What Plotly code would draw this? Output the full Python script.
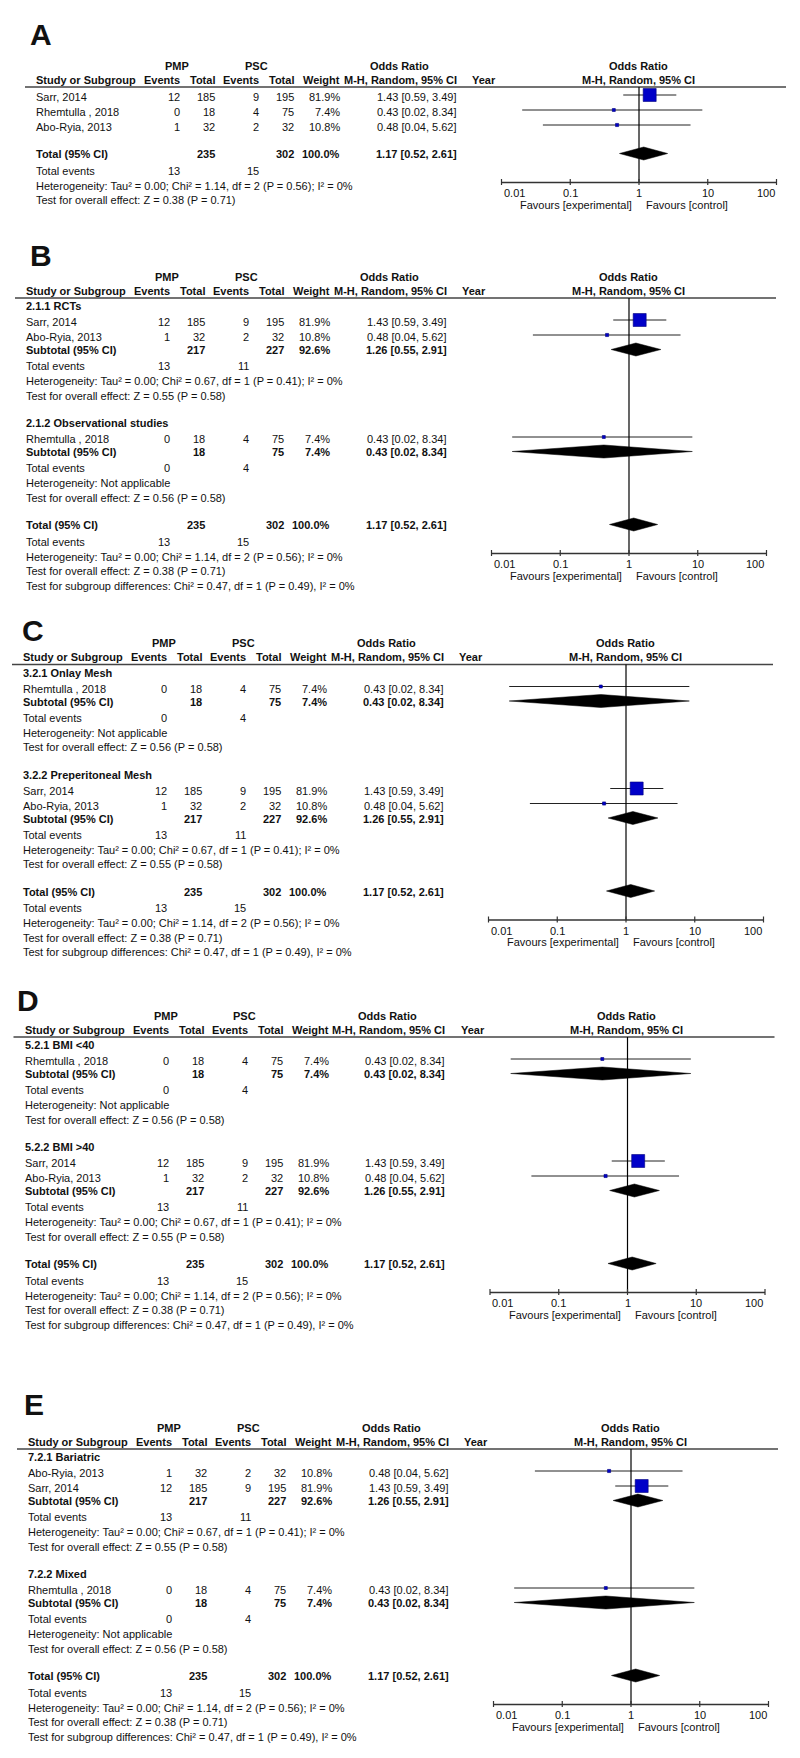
import math
import plotly.graph_objects as go

# ---------------- data ----------------
study_names = ["Sarr, 2014", "Rhemtulla , 2018", "Abo-Ryia, 2013"]
pmp_events = [12, 0, 1]
pmp_total = [185, 18, 32]
psc_events = [9, 4, 2]
psc_total = [195, 75, 32]
weights = [81.9, 7.4, 10.8]
or_est = [1.43, 0.43, 0.48]
or_lo = [0.59, 0.02, 0.04]
or_hi = [3.49, 8.34, 5.62]

# subgroup summaries: 0 = Sarr + Abo-Ryia, 1 = Rhemtulla
sub_pmp_events = [13, 0]
sub_psc_events = [11, 4]
sub_pmp_total = [217, 18]
sub_psc_total = [227, 75]
sub_weight = [92.6, 7.4]
sub_or = [1.26, 0.43]
sub_lo = [0.55, 0.02]
sub_hi = [2.91, 8.34]
sub_het = ["Heterogeneity: Tau² = 0.00; Chi² = 0.67, df = 1 (P = 0.41); I² = 0%",
           "Heterogeneity: Not applicable"]
sub_test = ["Test for overall effect: Z = 0.55 (P = 0.58)",
            "Test for overall effect: Z = 0.56 (P = 0.58)"]

tot_pmp_events = 13
tot_psc_events = 15
tot_pmp_total = 235
tot_psc_total = 302
tot_weight = 100.0
tot_or = 1.17
tot_lo = 0.52
tot_hi = 2.61
tot_het = "Heterogeneity: Tau² = 0.00; Chi² = 1.14, df = 2 (P = 0.56); I² = 0%"
tot_test = "Test for overall effect: Z = 0.38 (P = 0.71)"
tot_subdiff = "Test for subgroup differences: Chi² = 0.47, df = 1 (P = 0.49), I² = 0%"

panel_letters = ["A", "B", "C", "D", "E"]
# (subgroup label, study indices, subgroup summary index)
panel_groups = [
    [(None, [0, 1, 2], None)],
    [("2.1.1 RCTs", [0, 2], 0), ("2.1.2 Observational studies", [1], 1)],
    [("3.2.1 Onlay Mesh", [1], 1), ("3.2.2 Preperitoneal Mesh", [0, 2], 0)],
    [("5.2.1 BMI <40", [1], 1), ("5.2.2 BMI >40", [0, 2], 0)],
    [("7.2.1 Bariatric", [2, 0], 0), ("7.2.2 Mixed", [1], 1)],
]
tick_vals = [0.01, 0.1, 1, 10, 100]
tick_text = ["0.01", "0.1", "1", "10", "100"]

# ---------------- layout constants ----------------
W, H = 800, 1758
panel_line_y = [87, 298, 664.5, 1037, 1449]
panel_dx = [10, 0, -3, -1.5, 2]
letter_pos = [(28, 34), (28, 255), (20, 630), (15, 1000), (22, 1404)]
DEC = 68.75
FONT = "Arial, 'Liberation Sans', sans-serif"
TXT = "#111111"

fig = go.Figure()
annotations = []
shapes = []


def ann(text, x, y, xanchor="left", bold=False, size=11, xref="paper"):
    if bold:
        text = "<b>" + text + "</b>"
    annotations.append(dict(
        text=text, x=(x / W) if xref == "paper" else x, y=y, xref=xref, yref="y",
        xanchor=xanchor, yanchor="middle", showarrow=False,
        font=dict(family=FONT, size=size, color=TXT),
    ))


def fmt_or(o, lo, hi):
    return f"{o:.2f} [{lo:.2f}, {hi:.2f}]"


for p, letter in enumerate(panel_letters):
    dx = panel_dx[p]
    L = panel_line_y[p]
    vline = 629 + dx
    xa = "x" if p == 0 else f"x{p + 1}"
    xa_key = "xaxis" if p == 0 else f"xaxis{p + 1}"

    def cx(v):
        return v + dx

    # letter
    lx, ly = letter_pos[p]
    ann(letter, lx, ly, "left", bold=True, size=30)

    # headers
    y1, y2 = L - 21.5, L - 7.5
    ann("PMP", cx(167), y1, "center", True)
    ann("PSC", cx(246), y1, "center", True)
    ann("Odds Ratio", cx(389), y1, "center", True)
    ann("Odds Ratio", vline - 1, y1, "center", True)
    ann("Study or Subgroup", cx(24), y2, "left", True)
    ann("Events", cx(172), y2, "right", True)
    ann("Total", cx(207), y2, "right", True)
    ann("Events", cx(251), y2, "right", True)
    ann("Total", cx(286), y2, "right", True)
    ann("Weight", cx(332), y2, "right", True)
    ann("M-H, Random, 95% CI", cx(449), y2, "right", True)
    ann("Year", cx(460), y2, "left", True)
    ann("M-H, Random, 95% CI", vline - 1, y2, "center", True)
    shapes.append(dict(type="line", xref="paper", yref="y", x0=cx(15) / W, x1=cx(776) / W,
                       y0=L, y1=L, line=dict(color="#444444", width=1.5)))

    ci_x, ci_y, sq_x, sq_y, sq_s = [], [], [], [], []
    dia_x, dia_y = [], []

    def add_diamond(o, lo, hi, ry):
        ry = ry - 0.5
        dia_x.extend([lo, o, hi, o, lo, None])
        dia_y.extend([ry, ry - 6.5, ry, ry + 6.5, ry, None])

    def study_row(i, y, bold=False):
        ann(study_names[i], cx(24), y)
        ann(str(pmp_events[i]), cx(172), y, "right")
        ann(str(pmp_total[i]), cx(207), y, "right")
        ann(str(psc_events[i]), cx(251), y, "right")
        ann(str(psc_total[i]), cx(286), y, "right")
        ann(f"{weights[i]:.1f}%", cx(332), y, "right")
        ann(fmt_or(or_est[i], or_lo[i], or_hi[i]), cx(449), y, "right")
        ci_x.extend([or_lo[i], or_hi[i], None])
        ci_y.extend([y - 2, y - 2, None])
        sq_x.append(or_est[i])
        sq_y.append(y - 2)
        sq_s.append(max(3.0, 13 * (weights[i] / max(weights)) ** 0.7))

    y = L
    groups = panel_groups[p]
    has_sub = groups[0][0] is not None
    if not has_sub:
        for k, i in enumerate(groups[0][1]):
            y += 10 if k == 0 else 15
            study_row(i, y)
        y += 27
    else:
        for gi, (label, idxs, si) in enumerate(groups):
            y += 8 if gi == 0 else 27.5
            ann(label, cx(24), y, "left", True)
            for k, i in enumerate(idxs):
                y += 16 if k == 0 else 15
                study_row(i, y)
            y += 13
            ann("Subtotal (95% CI)", cx(24), y, "left", True)
            ann(str(sub_pmp_total[si]), cx(207), y, "right", True)
            ann(str(sub_psc_total[si]), cx(286), y, "right", True)
            ann(f"{sub_weight[si]:.1f}%", cx(332), y, "right", True)
            ann(fmt_or(sub_or[si], sub_lo[si], sub_hi[si]), cx(449), y, "right", True)
            add_diamond(sub_or[si], sub_lo[si], sub_hi[si], y)
            y += 16
            ann("Total events", cx(24), y)
            ann(str(sub_pmp_events[si]), cx(172), y, "right")
            ann(str(sub_psc_events[si]), cx(251), y, "right")
            y += 15
            ann(sub_het[si], cx(24), y)
            y += 14.5
            ann(sub_test[si], cx(24), y)
        y += 27.5

    y_tot = y
    ann("Total (95% CI)", cx(24), y, "left", True)
    ann(str(tot_pmp_total), cx(207), y, "right", True)
    ann(str(tot_psc_total), cx(286), y, "right", True)
    ann(f"{tot_weight:.1f}%", cx(332), y, "right", True)
    ann(fmt_or(tot_or, tot_lo, tot_hi), cx(449), y, "right", True)
    add_diamond(tot_or, tot_lo, tot_hi, y)
    y += 16.5
    ann("Total events", cx(24), y)
    ann(str(tot_pmp_events), cx(172), y, "right")
    ann(str(tot_psc_events), cx(251), y, "right")
    y += 15
    ann(tot_het, cx(24), y)
    y += 14.5
    ann(tot_test, cx(24), y)
    if has_sub:
        y += 14.5
        ann(tot_subdiff, cx(24), y)

    axis_y = y_tot + 28.5

    # forest axis (log)
    fig.update_layout(**{xa_key: dict(
        type="log", range=[-2.1, 2.1],
        domain=[(vline - 2.1 * DEC) / W, (vline + 2.1 * DEC) / W],
        anchor="y", visible=False, showgrid=False, zeroline=False,
    )})

    # traces
    fig.add_trace(go.Scatter(x=ci_x, y=ci_y, mode="lines", xaxis=xa, yaxis="y",
                             line=dict(color="#222222", width=1), hoverinfo="skip",
                             showlegend=False, cliponaxis=False))
    fig.add_trace(go.Scatter(x=sq_x, y=sq_y, mode="markers", xaxis=xa, yaxis="y",
                             marker=dict(symbol="square", size=sq_s, color="#0000C8", opacity=1,
                                         line=dict(color="#000080", width=0.6)),
                             hoverinfo="skip", showlegend=False, cliponaxis=False))
    fig.add_trace(go.Scatter(x=dia_x, y=dia_y, mode="lines", fill="toself", xaxis=xa, yaxis="y",
                             fillcolor="#000000", line=dict(color="#000000", width=0.5),
                             hoverinfo="skip", showlegend=False))

    # line of no effect
    shapes.append(dict(type="line", xref=xa, yref="y", x0=1, x1=1, y0=L, y1=axis_y,
                       line=dict(color="#000000", width=1.2)))
    # axis line and ticks
    shapes.append(dict(type="line", xref=xa, yref="y", x0=tick_vals[0], x1=tick_vals[-1],
                       y0=axis_y, y1=axis_y, line=dict(color="#333333", width=1.4)))
    for k, tv in enumerate(tick_vals):
        shapes.append(dict(type="line", xref=xa, yref="y", x0=tv, x1=tv,
                           y0=axis_y - 3.5, y1=axis_y + 2.5, line=dict(color="#333333", width=1.2)))
        anchor = "left" if k == 0 else ("right" if k == len(tick_vals) - 1 else "center")
        ann(tick_text[k], math.log10(tv), axis_y + 10.5, anchor, xref=xa)
    ann("Favours [experimental]", vline - 5, axis_y + 22, "right")
    ann("Favours [control]", vline + 5, axis_y + 22, "left")

fig.update_layout(
    width=W, height=H,
    margin=dict(l=0, r=0, t=0, b=0),
    paper_bgcolor="white", plot_bgcolor="rgba(0,0,0,0)",
    yaxis=dict(range=[H, 0], domain=[0, 1], visible=False, showgrid=False, zeroline=False),
    annotations=annotations, shapes=shapes, showlegend=False,
)
fig.write_html("out.html", config={"displayModeBar": False},
               post_script="document.body.style.margin='0px';")
